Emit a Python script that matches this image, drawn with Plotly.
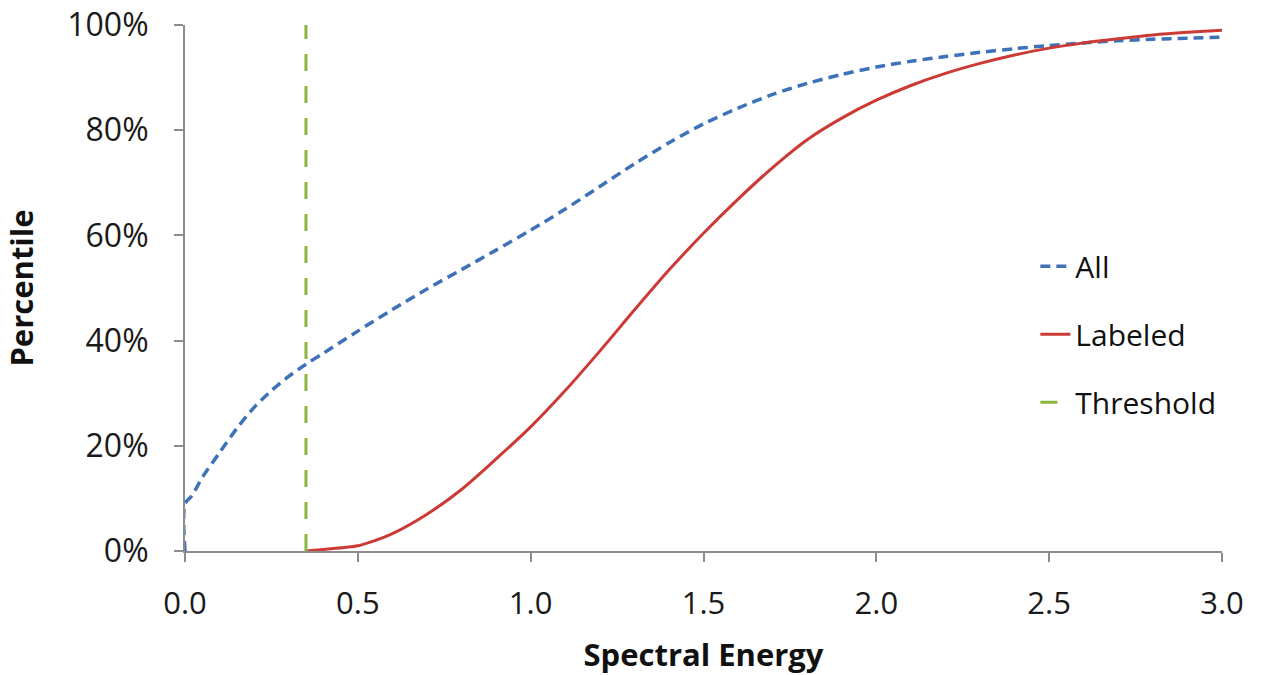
import plotly.graph_objects as go

# ---- data ----
all_x = [0, 0, 0.02, 0.05, 0.1, 0.15, 0.2, 0.25, 0.3, 0.35, 0.4, 0.5, 0.6, 0.7, 0.8, 0.9,
         1.0, 1.1, 1.2, 1.3, 1.4, 1.5, 1.6, 1.7, 1.8, 1.9, 2.0, 2.1, 2.2, 2.3, 2.4, 2.5,
         2.6, 2.7, 2.8, 2.9, 3.0]
all_y = [0, 9, 10.5, 14, 18.7, 23.3, 27.3, 30.5, 33.2, 35.5, 37.6, 41.8, 45.9, 49.8, 53.5, 57.2,
         61, 65, 69.3, 73.6, 77.6, 81.2, 84.2, 86.8, 88.9, 90.6, 92, 93.1, 94, 94.8, 95.5, 96.1,
         96.6, 97, 97.3, 97.5, 97.7]

labeled_x = [0.35, 0.4, 0.5, 0.55, 0.6, 0.7, 0.8, 0.9, 1.0, 1.1, 1.2, 1.3, 1.4, 1.5, 1.6,
             1.7, 1.8, 1.9, 2.0, 2.1, 2.2, 2.3, 2.4, 2.5, 2.6, 2.7, 2.8, 2.9, 3.0]
labeled_y = [0, 0.3, 1, 2, 3.3, 7, 11.7, 17.5, 23.6, 30.5, 38, 45.8, 53.4, 60.4, 66.9,
             72.9, 78.2, 82.3, 85.7, 88.5, 90.8, 92.7, 94.3, 95.6, 96.6, 97.4, 98.1, 98.6, 99]

threshold_x = [0.35, 0.35]
threshold_y = [0, 100]

x_ticks = [0.0, 0.5, 1.0, 1.5, 2.0, 2.5, 3.0]
y_ticks = [0, 20, 40, 60, 80, 100]
y_tick_text = ["0%", "20%", "40%", "60%", "80%", "100%"]

FONT = "Open Sans"
BLUE = "#3D72B8"
RED = "#CC3A36"
GREEN = "#8DB53C"
AXIS = "#8C8C8C"

fig = go.Figure()
fig.add_trace(go.Scatter(x=all_x, y=all_y, mode="lines", name="All", legendgroup="a",
                         line=dict(color=BLUE, width=3.5, dash="10px,6px", shape="spline", smoothing=0.8)))
fig.add_trace(go.Scatter(x=labeled_x, y=labeled_y, mode="lines", name="Labeled", legendgroup="b",
                         line=dict(color=RED, width=3, shape="spline", smoothing=0.8)))
fig.add_trace(go.Scatter(x=threshold_x, y=threshold_y, mode="lines", name="Threshold", legendgroup="c",
                         line=dict(color=GREEN, width=3, dash="17px,15px")))

fig.update_layout(
    width=1267, height=675,
    margin=dict(l=185, r=45, t=25, b=124),
    paper_bgcolor="white", plot_bgcolor="white",
    font=dict(family=FONT, color="#1a1a1a", size=30),
    showlegend=True,
    legend=dict(x=0.82, y=0.591, xanchor="left", yanchor="top",
                font=dict(size=30, family=FONT, color="#111"),
                traceorder="grouped", tracegroupgap=26,
                bgcolor="rgba(0,0,0,0)"),
)
fig.update_xaxes(
    range=[0, 3], tickvals=x_ticks, tickformat=".1f", automargin=False,
    showgrid=False, zeroline=False,
    showline=True, linecolor=AXIS, linewidth=2,
    ticks="outside", ticklen=9, tickcolor=AXIS, tickwidth=2, ticklabelstandoff=15,
    ticklabeloverflow="allow",
    tickfont=dict(size=31, family=FONT, color="#1a1a1a"),
    title=dict(text="<b>Spectral Energy</b>", font=dict(size=31, family=FONT, color="#111"), standoff=22),
)
fig.update_yaxes(
    range=[0, 100], tickvals=y_ticks, ticktext=y_tick_text, automargin=False,
    showgrid=False, zeroline=False,
    showline=True, linecolor=AXIS, linewidth=2,
    ticks="outside", ticklen=9, tickcolor=AXIS, tickwidth=2, ticklabelstandoff=19,
    ticklabeloverflow="allow",
    tickfont=dict(size=32, family=FONT, color="#1a1a1a"),
    title=dict(text="<b>Percentile</b>", font=dict(size=31, family=FONT, color="#111"), standoff=28),
)

fig.write_html("out.html", config={"displayModeBar": False},
               post_script="document.body.style.margin='0';")
